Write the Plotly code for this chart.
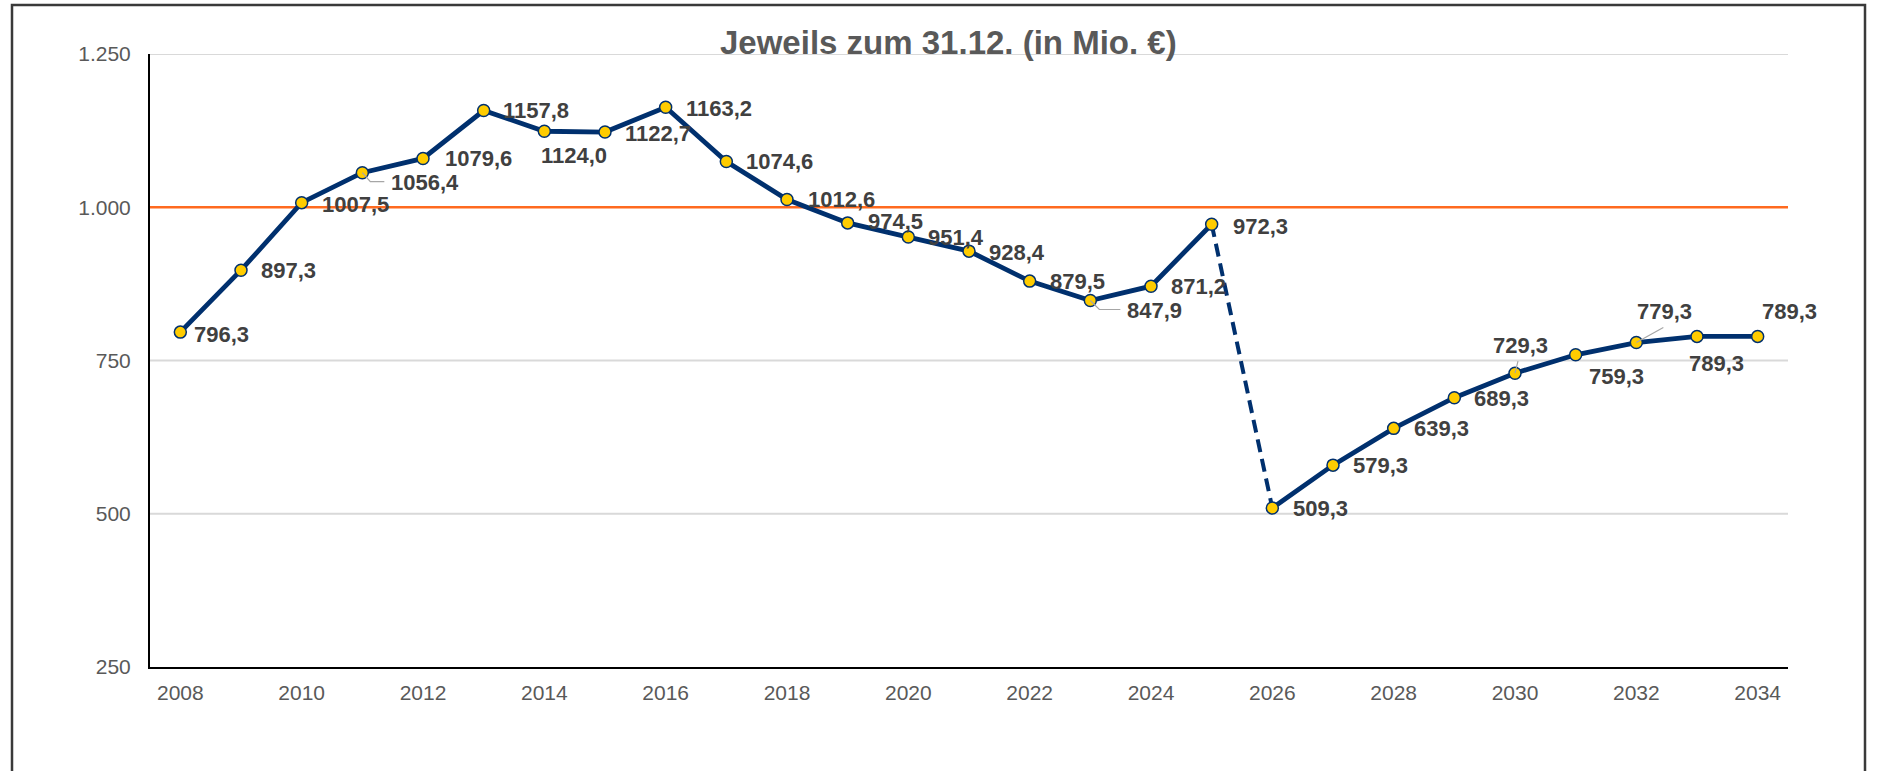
import plotly.graph_objects as go

# ---- data ----
years = list(range(2008, 2035))
values = [796.3, 897.3, 1007.5, 1056.4, 1079.6, 1157.8, 1124.0, 1122.7, 1163.2,
          1074.6, 1012.6, 974.5, 951.4, 928.4, 879.5, 847.9, 871.2, 972.3,
          509.3, 579.3, 639.3, 689.3, 729.3, 759.3, 779.3, 789.3, 789.3]
y_ticks = [250, 500, 750, 1000, 1250]
x_ticks = list(range(2008, 2035, 2))
threshold = 1000
title_text = "Jeweils zum 31.12. (in Mio. €)"
break_index = 17  # last actual value before the dashed jump

# ---- label placement (pixel offsets: dx to label left edge, dy down) ----
label_dx = [14, 20, 20, 29, 22, 19, -3, 20, 20, 20, 21, 20, 20, 20, 20, 37, 20, 21,
            21, 20, 20, 20, -22, 13, 1, -8, 4]
label_dy = [2, 0, 2, 10, 0, 0, 24, 1, 1, 0, 0, -1, 0, 1, 0, 10, 0, 2,
            0, 0, 0, 1, -28, 22, -31, 27, -25]
leaders = {2011: "M0,0 L8,-9 L22,-9", 2023: "M0,0 L9,-9 L30,-9",
           2030: "M0,0 L3,12", 2032: "M0,0 L27,15"}

NAVY = "#00306E"
GOLD = "#FFCC00"
ORANGE = "#FF6A1F"
GRID = "#D9D9D9"
FONT = "Liberation Sans, Arial"
W, H = 1879, 771
L, R, T, B = 150, 91, 54, 104
pw, ph = W - L - R, H - T - B

fig = go.Figure()
fig.add_trace(go.Scatter(x=years[:break_index + 1], y=values[:break_index + 1], mode="lines",
                         line=dict(color=NAVY, width=4.8), hoverinfo="skip", showlegend=False))
fig.add_trace(go.Scatter(x=years[break_index:break_index + 2], y=values[break_index:break_index + 2],
                         mode="lines", line=dict(color=NAVY, width=4, dash="13px,7px"),
                         hoverinfo="skip", showlegend=False))
fig.add_trace(go.Scatter(x=years[break_index + 1:], y=values[break_index + 1:], mode="lines",
                         line=dict(color=NAVY, width=4.8), hoverinfo="skip", showlegend=False))
fig.add_trace(go.Scatter(x=years, y=values, mode="markers",
                         marker=dict(size=12, color=GOLD, line=dict(color=NAVY, width=1.5)),
                         showlegend=False))

shapes = []
# horizontal gridlines (except the axis baseline and the threshold line)
for t in y_ticks[1:]:
    if t != threshold:
        shapes.append(dict(type="line", xref="paper", x0=0, x1=1, yref="y", y0=t, y1=t,
                           line=dict(color=GRID, width=2), layer="below"))
shapes.append(dict(type="line", xref="paper", x0=0, x1=1, yref="y", y0=threshold, y1=threshold,
                   line=dict(color=ORANGE, width=2.5), layer="below"))
shapes.append(dict(type="rect", xref="paper", yref="paper",
                   x0=(12 - L) / pw, x1=(1865 - L) / pw, y0=(H - B - 790) / ph, y1=(H - B - 5) / ph,
                   line=dict(color="#3A3A3A", width=2.5), fillcolor="rgba(0,0,0,0)", layer="above"))
for yr, path in leaders.items():
    v = values[years.index(yr)]
    shapes.append(dict(type="path", xref="x", yref="y", xsizemode="pixel", ysizemode="pixel",
                       xanchor=yr, yanchor=v, path=path,
                       line=dict(color="#A6A6A6", width=1.2), layer="above"))

annotations = []
for yr, v, dx, dy in zip(years, values, label_dx, label_dy):
    annotations.append(dict(x=yr, y=v, xref="x", yref="y", text=f"{v:.1f}".replace(".", ","),
                            showarrow=False, xanchor="left", yanchor="middle",
                            xshift=dx - 2, yshift=-dy,
                            font=dict(family=FONT, size=22, color="#404040", weight="bold")))
annotations.append(dict(x=(948 - L) / pw, y=(H - B - 43) / ph, xref="paper", yref="paper",
                        text=title_text, showarrow=False, xanchor="center", yanchor="middle",
                        font=dict(family=FONT, size=33, color="#595959", weight="bold")))

fig.update_layout(
    width=W, height=H, margin=dict(l=L, r=R, t=T, b=B, autoexpand=False),
    paper_bgcolor="white", plot_bgcolor="white", separators=",.",
    shapes=shapes, annotations=annotations,
    font=dict(family=FONT, size=21, color="#595959"),
)
fig.update_xaxes(range=[2007.5, 2034.5], tickvals=x_ticks, showgrid=False, zeroline=False,
                 showline=True, linecolor="black", linewidth=2, ticks="", ticklabelstandoff=6,
                 tickfont=dict(size=21, color="#595959"))
fig.update_yaxes(range=[250, 1250], tickvals=y_ticks, tickformat=",d", showgrid=False,
                 zeroline=False, showline=True, linecolor="black", linewidth=2, ticks="",
                 ticklabelstandoff=13, tickfont=dict(size=21, color="#595959"))

fig.write_html("out.html", config={"displayModeBar": False},
               post_script="document.body.style.margin='0';document.body.style.overflow='hidden';")
